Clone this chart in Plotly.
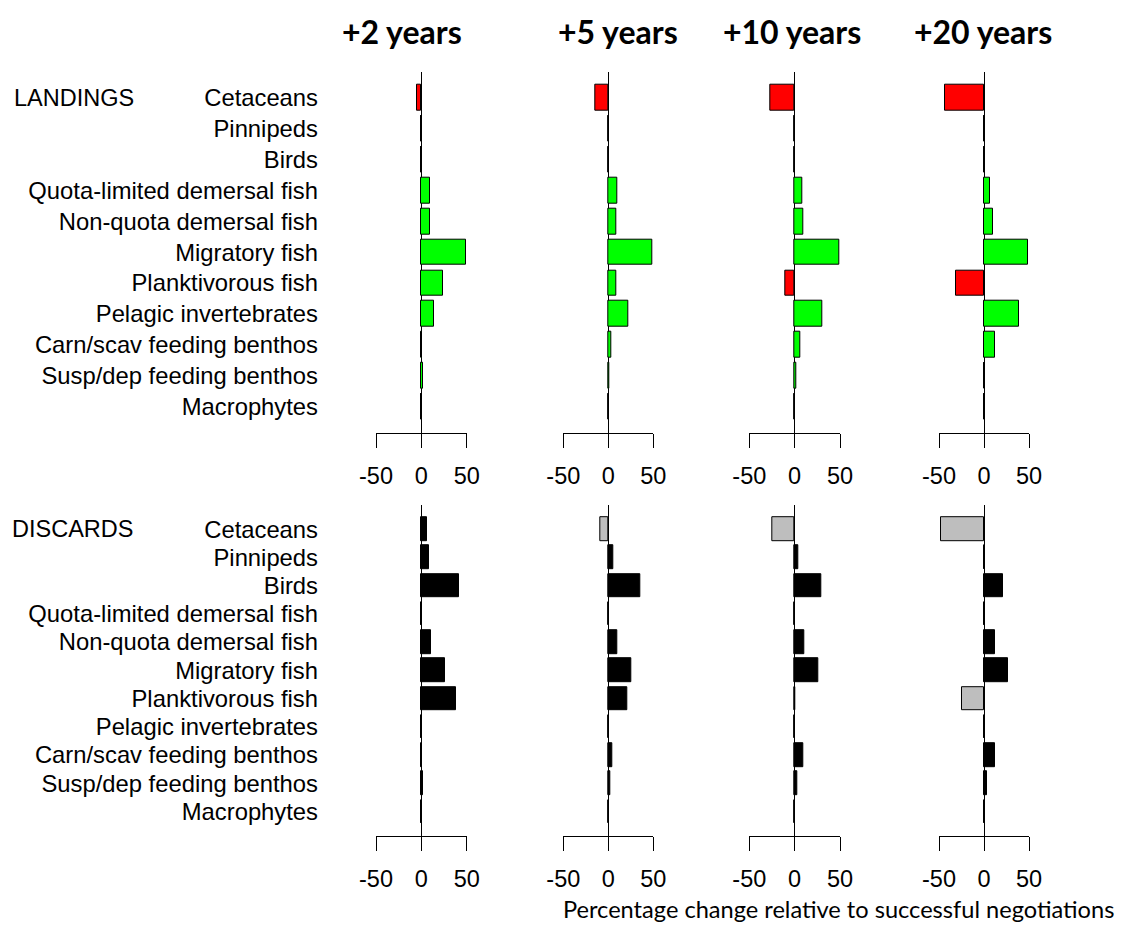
import plotly.graph_objects as go
from plotly.subplots import make_subplots

# ---------------- data ----------------
categories = ["Cetaceans", "Pinnipeds", "Birds", "Quota-limited demersal fish",
              "Non-quota demersal fish", "Migratory fish", "Planktivorous fish",
              "Pelagic invertebrates", "Carn/scav feeding benthos",
              "Susp/dep feeding benthos", "Macrophytes"]
horizons = ["+2 years", "+5 years", "+10 years", "+20 years"]

landings_2 = [-5, 0, 0, 10, 10, 49, 23.5, 13.5, 0.5, 1.5, 0]
landings_5 = [-15, 0, 0, 10, 8.5, 49, 8.5, 22, 3.5, 1.5, 0]
landings_10 = [-27, 0, 0, 8.5, 10, 49, -10, 30, 6.5, 1.5, 0]
landings_20 = [-43, 0, 0, 7, 10.5, 49, -31.5, 39, 12, 0.5, 0]

discards_2 = [6, 8, 41.5, 0, 11, 26.5, 38, 0, 0.5, 2, 0]
discards_5 = [-9, 6, 36, 0, 9.5, 26, 21, 0, 4.5, 2.5, 0]
discards_10 = [-25, 4.5, 29, 0, 10.5, 26, 1, 0, 9.5, 2.5, 0]
discards_20 = [-48, 0.5, 21, 0, 12.5, 26.5, -25, 0, 12.5, 3, 0]

tick_vals = [-50, 0, 50]
tick_text = ["-50", "0", "50"]
row_labels = ["LANDINGS", "DISCARDS"]
x_title = "Percentage change relative to successful negotiations"

# ---------------- layout geometry (page pixels) ----------------
OFF = 8                      # page body margin
W, H = 1123 - OFF, 938 - OFF  # figure size


def px(x):
    return (x - OFF) / W


def py(y):
    return 1 - (y - OFF) / H


xdom_px = [(376, 466.7), (563.3, 653.3), (749.3, 840), (939, 1029)]
ydom_px = [(71.7, 432.7), (505.2, 835.5)]
title_x_px = [402, 617.5, 791.7, 983.3]
row_label_x_px = [4 + OFF, 2 + OFF]

ARIAL = "Liberation Sans, Arial, sans-serif"
CAL = "Lato, Open Sans, sans-serif"

fig = make_subplots(rows=2, cols=4)

rows = [
    ([landings_2, landings_5, landings_10, landings_20], "#00FF00", "#FF0000"),
    ([discards_2, discards_5, discards_10, discards_20], "#000000", "#BEBEBE"),
]

for r, (series, pos_col, neg_col) in enumerate(rows):
    for c, vals in enumerate(series):
        colors = [pos_col if v >= 0 else neg_col for v in vals]
        fig.add_trace(go.Bar(
            x=vals, y=categories, orientation="h", width=0.833,
            marker=dict(color=colors, line=dict(color="black", width=1)),
            showlegend=False,
        ), row=r + 1, col=c + 1)
        fig.update_xaxes(
            domain=[px(xdom_px[c][0]), px(xdom_px[c][1])], automargin=False,
            range=[-50, 50], tickmode="array", tickvals=tick_vals, ticktext=tick_text,
            ticks="outside", ticklen=14, tickwidth=1, tickcolor="black",
            showline=True, linecolor="black", linewidth=1,
            zeroline=True, zerolinecolor="black", zerolinewidth=1,
            showgrid=False, ticklabelstandoff=8,
            tickfont=dict(family=ARIAL, size=23.5, color="black"),
            row=r + 1, col=c + 1)
        fig.update_yaxes(
            domain=[py(ydom_px[r][1]), py(ydom_px[r][0])], automargin=False,
            type="category", categoryorder="array", categoryarray=categories,
            tickmode="array", tickvals=categories, ticktext=categories,
            range=[10.85, -0.85], showgrid=False, zeroline=False, showline=False,
            ticks="", showticklabels=(c == 0), ticklabelstandoff=57,
            tickfont=dict(family=ARIAL, size=23.8, color="black"),
            row=r + 1, col=c + 1)

annotations = []
for c, h in enumerate(horizons):
    annotations.append(dict(text="<b>" + h + "</b>", x=px(title_x_px[c]), y=py(31),
                            xref="paper", yref="paper", xanchor="center", yanchor="middle",
                            showarrow=False, font=dict(family=CAL, size=32, color="black")))
for r, lab in enumerate(row_labels):
    cy = ydom_px[r][0] + 0.85 * (ydom_px[r][1] - ydom_px[r][0]) / 11.7
    annotations.append(dict(text=lab, x=px(row_label_x_px[r]), y=py(cy),
                            xref="paper", yref="paper",
                            xanchor="left", yanchor="middle", showarrow=False,
                            font=dict(family=ARIAL, size=23.5, color="black")))
annotations.append(dict(text=x_title, x=px(838), y=py(909), xref="paper", yref="paper",
                        xanchor="center", yanchor="middle", showarrow=False,
                        font=dict(family=CAL, size=23.6, color="black")))

fig.update_layout(
    width=W, height=H, margin=dict(l=0, r=0, t=0, b=0),
    paper_bgcolor="white", plot_bgcolor="white",
    annotations=annotations, bargap=0,
)

fig.write_html("out.html")
